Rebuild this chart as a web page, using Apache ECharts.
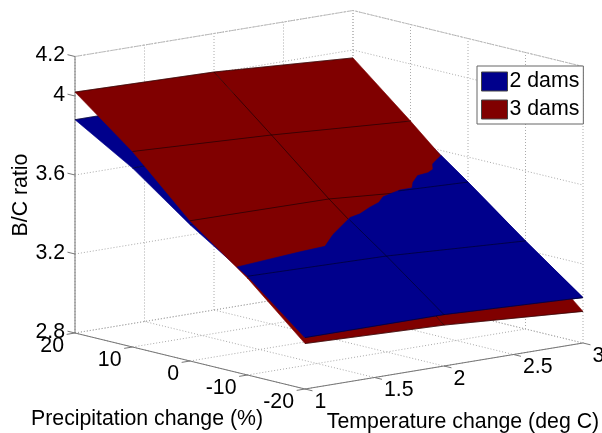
<!DOCTYPE html>
<html>
<head>
<meta charset="utf-8">
<style>html,body{margin:0;padding:0;background:#fff}#c{width:602px;height:433px}</style>
<script src="https://cdn.jsdelivr.net/npm/echarts@6/dist/echarts.min.js"></script>
</head>
<body>
<div id="c"></div>
<script>
// ---- data ----
const temperatureValues = [1, 2, 3];
const precipitationValues = [20, 10, 0, -10, -20];
const twoDamsRow20 = [3.88, 3.88, 3.84];
const twoDamsRow10 = [3.706, 3.72, 3.69];
const twoDamsRow0 = [3.49, 3.50, 3.473];
const twoDamsRowM10 = [3.30, 3.286, 3.246];
const twoDamsRowM20 = [3.06, 3.06, 3.03];
const threeDamsRow20 = [4.02, 4.005, 3.96];
const threeDamsRow10 = [3.79, 3.757, 3.711];
const threeDamsRow0 = [3.51, 3.504, 3.45];
const threeDamsRowM10 = [3.29, 3.27, 3.22];
const threeDamsRowM20 = [3.03, 3.007, 2.96];
// where the two surfaces cross: [temperature, precipitation]
const crossoverCurve = [[3,4.68],[2.93,3.95],[2.89,3.5],[2.86,2.7],[2.805,2.25],[2.72,2.0],[2.648,1.06],[2.605,0.19],[2.515,0.12],[2.364,-0.6],[2.3,-1.4],[2.213,-1.97],[2.106,-2.82],[2.018,-3.22],[1.805,-5.41],[1.68,-7.04],[1.49,-7.3],[1,-8.2]];
const temperatureTicks = [1, 1.5, 2, 2.5, 3];
const temperatureTickLabels = ['1', '1.5', '2', '2.5', '3'];
const precipitationTicks = [20, 10, 0, -10, -20];
const precipitationTickLabels = ['20', '10', '0', '-10', '-20'];
const ratioTicks = [2.8, 3.2, 3.6, 4, 4.2];
const ratioTickLabels = ['2.8', '3.2', '3.6', '4', '4.2'];
const seriesNames = ['2 dams', '3 dams'];

// ---- view ----
const FONT = '"Liberation Sans", Arial, sans-serif';
const FONT_SIZE = 21.3;
const BLUE = '#00008c', RED = '#800000';
const twoDams = [twoDamsRow20, twoDamsRow10, twoDamsRow0, twoDamsRowM10, twoDamsRowM20];
const threeDams = [threeDamsRow20, threeDamsRow10, threeDamsRow0, threeDamsRowM10, threeDamsRowM20];
const ZMIN = 2.8, ZMAX = 4.2, TMIN = 1, TMAX = 3, PMIN = -20, PMAX = 20;

// fixed MATLAB-style orthographic view onto a hidden plane of the value axes
function project(p) {
  const t = p[0], q = p[1], z = p[2];
  return [75 + (t - 1) * 139 + (20 - q) * 5.75,
          333 - (t - 1) * 23 + (20 - q) * 1.4 - (z - 2.8) * 197.5];
}
function surfaceAt(rows, t, q) {
  const pi = Math.min(3, Math.max(0, Math.floor((20 - q) / 10)));
  const ti = Math.min(1, Math.max(0, Math.floor(t - 1)));
  const u = t - temperatureValues[ti], v = (precipitationValues[pi] - q) / 10;
  return rows[pi][ti] * (1 - u) * (1 - v) + rows[pi][ti + 1] * u * (1 - v)
       + rows[pi + 1][ti] * (1 - u) * v + rows[pi + 1][ti + 1] * u * v;
}
function quads(rows) {
  const out = [];
  for (let i = 0; i < 4; i++) for (let j = 0; j < 2; j++) {
    const P0 = precipitationValues[i], P1 = precipitationValues[i + 1];
    const T0 = temperatureValues[j], T1 = temperatureValues[j + 1];
    out.push([[T0, P0, rows[i][j]], [T1, P0, rows[i][j + 1]], [T1, P1, rows[i + 1][j + 1]], [T0, P1, rows[i + 1][j]]]);
  }
  return out;
}
function meshLines(rows) {
  const out = [];
  precipitationValues.forEach((q, i) => out.push(temperatureValues.map((t, j) => [t, q, rows[i][j]])));
  out.push(precipitationValues.map((q, i) => [2, q, rows[i][1]]));
  return out;
}
// part of the 2-dam surface that lies above the 3-dam one
const bluePatch = crossoverCurve.map(c => [c[0], c[1], surfaceAt(twoDams, c[0], c[1])]).concat([
  [1, -10, twoDamsRowM10[0]], [1, -20, twoDamsRowM20[0]], [2, -20, twoDamsRowM20[1]], [3, -20, twoDamsRowM20[2]],
  [3, -10, twoDamsRowM10[2]], [3, 0, twoDamsRow0[2]]
]);
function inBluePatch(t, q) {
  let inside = false;
  const poly = bluePatch;
  for (let i = 0, j = poly.length - 1; i < poly.length; j = i++) {
    const a = poly[i], b = poly[j];
    if ((a[1] > q) !== (b[1] > q) && t < (b[0] - a[0]) * (q - a[1]) / (b[1] - a[1]) + a[0]) inside = !inside;
  }
  return inside;
}
function visibleBlueLines() {
  const out = [];
  const trace = (fn) => {
    let cur = [];
    for (let k = 0; k <= 200; k++) {
      const s = k / 200, pt = fn(s);
      if (inBluePatch(pt[0], pt[1] + 0)) cur.push([pt[0], pt[1], surfaceAt(twoDams, pt[0], pt[1])]);
      else { if (cur.length > 1) out.push(cur); cur = []; }
    }
    if (cur.length > 1) out.push(cur);
  };
  [0, -10, -19.99].forEach(q => trace(s => [1.001 + s * 1.998, q]));
  trace(s => [2, 20 - s * 39.98]);
  return out;
}

// ---- box, grid ----
const gridLines = [];
temperatureTicks.forEach(t => {
  gridLines.push([[t, PMAX, ZMIN], [t, PMIN, ZMIN]]);
  gridLines.push([[t, PMAX, ZMIN], [t, PMAX, ZMAX]]);
});
precipitationTicks.forEach(q => {
  gridLines.push([[TMIN, q, ZMIN], [TMAX, q, ZMIN]]);
  gridLines.push([[TMAX, q, ZMIN], [TMAX, q, ZMAX]]);
});
ratioTicks.forEach(z => {
  gridLines.push([[TMIN, PMAX, z], [TMAX, PMAX, z]]);
  gridLines.push([[TMAX, PMAX, z], [TMAX, PMIN, z]]);
});
const boxLines = [[[TMIN, PMAX, ZMAX], [TMAX, PMAX, ZMAX], [TMAX, PMIN, ZMAX]]];
const axisLines = [
  [[TMIN, PMAX, ZMIN], [TMIN, PMAX, ZMAX]],
  [[TMIN, PMAX, ZMIN], [TMIN, PMIN, ZMIN], [TMAX, PMIN, ZMIN]]
];
ratioTicks.forEach(z => axisLines.push([[TMIN, PMAX, z], [TMIN, PMAX + 1.3, z]]));
precipitationTicks.forEach(q => axisLines.push([[TMIN, q, ZMIN], [TMIN - 0.06, q, ZMIN]]));
temperatureTicks.forEach(t => axisLines.push([[t, PMIN, ZMIN], [t, PMIN - 1.3, ZMIN]]));

function polySeries(name, polys, color, z) {
  return {
    type: 'custom', name, coordinateSystem: 'cartesian2d', z, silent: true, clip: false,
    itemStyle: { color }, data: polys.map((_, i) => [i]), encode: { x: 0, y: 0 },
    renderItem: (params, api) => ({
      type: 'polygon',
      shape: { points: polys[params.dataIndex].map(p => api.coord(project(p))) },
      style: { fill: color, stroke: color, lineWidth: 0.6 }
    })
  };
}
function lineSeries(lines, style, z) {
  return {
    type: 'custom', coordinateSystem: 'cartesian2d', z, silent: true, clip: false,
    data: lines.map((_, i) => [i]), encode: { x: 0, y: 0 },
    renderItem: (params, api) => ({
      type: 'polyline',
      shape: { points: lines[params.dataIndex].map(p => api.coord(project(p))) },
      style: Object.assign({ fill: null }, style)
    })
  };
}
function textSeries(items, z) {
  return {
    type: 'custom', coordinateSystem: 'cartesian2d', z, silent: true, clip: false,
    data: items.map((_, i) => [i]), encode: { x: 0, y: 0 },
    renderItem: (params, api) => {
      const it = items[params.dataIndex];
      const c = api.coord(project(it.at));
      return { type: 'text', x: c[0] + it.dx, y: c[1] + it.dy,
        style: { text: it.text, fill: '#000', font: FONT_SIZE + 'px ' + FONT, textAlign: it.align, textVerticalAlign: 'middle' } };
    }
  };
}
const tickTexts = [];
ratioTicks.forEach((z, i) => tickTexts.push({ at: [TMIN, PMAX, z], dx: -10, dy: -1, align: 'right', text: ratioTickLabels[i] }));
precipitationTicks.forEach((q, i) => tickTexts.push({ at: [TMIN, q, ZMIN], dx: -11, dy: 13.5, align: 'right', text: precipitationTickLabels[i] }));
temperatureTicks.forEach((t, i) => tickTexts.push({ at: [t, PMIN, ZMIN], dx: 9.5, dy: 13, align: 'left', text: temperatureTickLabels[i] }));

const chart = echarts.init(document.getElementById('c'), null, { renderer: 'canvas' });
chart.setOption({
  animation: false,
  backgroundColor: '#fff',
  grid: { left: 0, right: 0, top: 0, bottom: 0 },
  xAxis: { type: 'value', min: 0, max: 602, show: false },
  yAxis: { type: 'value', min: 0, max: 433, inverse: true, show: false },
  legend: {
    data: seriesNames, orient: 'vertical', left: 477, top: 66, padding: [5, 4, 4, 4], itemGap: 7,
    itemWidth: 26, itemHeight: 19, icon: 'rect', selectedMode: false, backgroundColor: '#fff',
    borderColor: '#666', borderWidth: 1, z: 50,
    itemStyle: { borderColor: '#444', borderWidth: 1 },
    textStyle: { fontFamily: FONT, fontSize: FONT_SIZE, color: '#000', padding: [0, 0, 0, -3] }
  },
  graphic: [
    { type: 'text', x: 147, y: 419, z: 40, style: { text: 'Precipitation change (%)', font: FONT_SIZE + 'px ' + FONT, fill: '#000', textAlign: 'center', textVerticalAlign: 'middle' } },
    { type: 'text', x: 463, y: 422, z: 40, style: { text: 'Temperature change (deg C)', font: FONT_SIZE + 'px ' + FONT, fill: '#000', textAlign: 'center', textVerticalAlign: 'middle' } },
    { type: 'text', x: 21, y: 195, rotation: Math.PI / 2, z: 40, style: { text: 'B/C ratio', font: FONT_SIZE + 'px ' + FONT, fill: '#000', textAlign: 'center', textVerticalAlign: 'middle' } }
  ],
  series: [
    lineSeries(gridLines, { stroke: '#aaa', lineWidth: 1, lineDash: [1, 2] }, 1),
    lineSeries(boxLines, { stroke: '#bbb', lineWidth: 1, lineDash: [3, 1] }, 1),
    lineSeries(axisLines, { stroke: '#777', lineWidth: 1 }, 2),
    polySeries(seriesNames[0], quads(twoDams), BLUE, 3),
    lineSeries(meshLines(twoDams), { stroke: '#000', lineWidth: 0.5 }, 4),
    polySeries(seriesNames[1], quads(threeDams), RED, 5),
    lineSeries(meshLines(threeDams), { stroke: '#000', lineWidth: 0.5 }, 6),
    polySeries('2 dams above', [bluePatch], BLUE, 7),
    lineSeries(visibleBlueLines(), { stroke: '#000', lineWidth: 0.5 }, 8),
    textSeries(tickTexts, 9)
  ]
});
</script>
</body>
</html>
